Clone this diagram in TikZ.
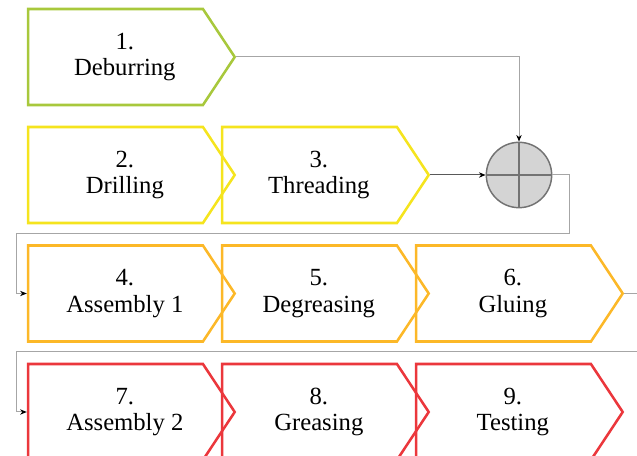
\documentclass[tikz,border=0pt]{standalone}
\usepackage{fontspec}
\setmainfont{Liberation Serif}
\usetikzlibrary{shapes.symbols,arrows.meta}

\definecolor{stepgreen}{RGB}{168,200,60}
\definecolor{stepyellow}{RGB}{245,228,30}
\definecolor{steporange}{RGB}{252,184,40}
\definecolor{stepred}{RGB}{235,55,60}
\newcommand{\stagetext}[2]{\hspace*{14pt}#1\\\hspace*{14pt}#2}

\begin{document}
\begin{tikzpicture}[x=0.75pt,y=-0.75pt,
  stagebox/.style={signal,signal to=east,signal pointer angle=113,draw=#1,line width=1.9pt,
    minimum width=155pt,minimum height=72pt,inner sep=0pt,align=center,
    font=\fontsize{18.5}{20}\selectfont},
  flow/.style={draw=black!35,line width=0.75pt,-{Stealth[length=5pt,width=4pt,color=black]}}]
  \clip (0,0) rectangle (637,456);
  \node[stagebox=stepgreen] (1) at (115.5,57) {\stagetext{1.}{Deburring}};
  \node[stagebox=stepyellow] (2) at (115.5,175) {\stagetext{2.}{Drilling}};
  \node[stagebox=stepyellow] (3) at (309.5,175) {\stagetext{3.}{Threading}};
  \node[stagebox=steporange] (4) at (115.5,293.5) {\stagetext{4.}{Assembly 1}};
  \node[stagebox=steporange] (5) at (309.5,293.5) {\stagetext{5.}{Degreasing}};
  \node[stagebox=steporange] (6) at (503.5,293.5) {\stagetext{6.}{Gluing}};
  \node[stagebox=stepred] (7) at (115.5,412) {\stagetext{7.}{Assembly 2}};
  \node[stagebox=stepred] (8) at (309.5,412) {\stagetext{8.}{Greasing}};
  \node[stagebox=stepred] (9) at (503.5,412) {\stagetext{9.}{Testing}};
  \node[circle,fill=black!17,draw=black!55,line width=1.1pt,minimum size=49pt,inner sep=0pt] (join) at (519,175) {};
  \draw[black!55,line width=1.1pt] (join.north) -- (join.south);
  \draw[black!55,line width=1.1pt] (join.west) -- (join.east);
  \coordinate (r1) at (569,233.5);
  \coordinate (l1) at (16,233.5);
  \coordinate (r2) at (645,352);
  \coordinate (l2) at (16,352);
  \draw[flow] (1.east) -| (join.north);
  \draw[flow,draw=black!65] (3.east) -- (join.west);
  \draw[flow] (join.east) -| (r1) -- (l1) |- (4.west);
  \draw[flow] (6.east) -| (r2) -- (l2) |- (7.west);
\end{tikzpicture}
\end{document}
